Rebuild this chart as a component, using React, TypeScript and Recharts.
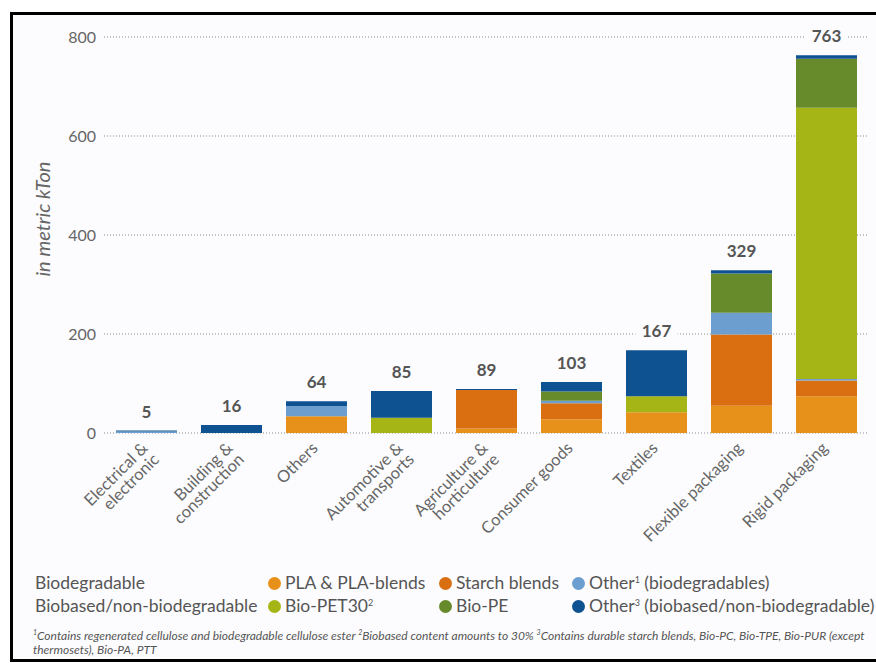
import React from "react";
import { BarChart, Bar, XAxis, YAxis, CartesianGrid, LabelList } from "recharts";

const categories = [
  "Electrical &\nelectronic",
  "Building &\nconstruction",
  "Others",
  "Automotive &\ntransports",
  "Agriculture &\nhorticulture",
  "Consumer goods",
  "Textiles",
  "Flexible packaging",
  "Rigid packaging",
];

// kTon (bottom to top of each stack)
const pla = [0, 0, 34, 0, 9, 28, 42, 55, 74];
const starch = [0, 0, 0, 0, 78, 32, 0, 144, 32];
const otherBio = [3, 0, 20, 0, 0, 5, 0, 44, 3];
const bioPet = [0, 0, 0, 31, 0, 0, 32, 0, 548];
const bioPe = [0, 0, 0, 0, 0, 19, 0, 79, 99];
const otherNonBio = [2, 16, 10, 54, 2, 19, 93, 7, 7];
const totals = [5, 16, 64, 85, 89, 103, 167, 329, 763];

const yTicks = [0, 200, 400, 600, 800];

const COLORS = {
  pla: "#e8911a",
  starch: "#da6f12",
  otherBio: "#6c9fd0",
  bioPet: "#a6b516",
  bioPe: "#678b2b",
  otherNonBio: "#0f5292",
};

const BG = "#fcfcfe";
const TEXT = "#666";
const FONT = "Lato, 'Open Sans', sans-serif";

const data = categories.map((name, i) => ({
  name,
  pla: pla[i],
  starch: starch[i],
  otherBio: otherBio[i],
  bioPet: bioPet[i],
  bioPe: bioPe[i],
  otherNonBio: otherNonBio[i],
  total: totals[i],
}));

function CategoryTick(props: any) {
  const { x, y, payload } = props;
  const lines = String(payload.value).split("\n");
  return (
    <g transform={`translate(${x - 2},${y + 4})`}>
      <text
        transform="rotate(-45)"
        textAnchor="end"
        fill={TEXT}
        fontSize={16.5}
        fontFamily={FONT}
      >
        {lines.map((l, i) => (
          <tspan key={i} x={0} dy={i === 0 ? 6 : 16}>
            {l}
          </tspan>
        ))}
      </text>
    </g>
  );
}

function TotalLabel(props: any) {
  const { x, y, width, value } = props;
  const cx = x + width / 2;
  const cy = y - 19;
  const w = String(value).length * 10 + 12;
  return (
    <g>
      <rect x={cx - w / 2} y={cy - 10} width={w} height={20} fill={BG} />
      <text
        x={cx}
        y={cy + 6}
        textAnchor="middle"
        fontSize={17}
        fontWeight={700}
        fill="#555"
        fontFamily={FONT}
      >
        {value}
      </text>
    </g>
  );
}

const sup = (n: string) => (
  <sup style={{ fontSize: 9, lineHeight: 0, verticalAlign: "6px" }}>{n}</sup>
);

const legendRows = [
  {
    group: "Biodegradable",
    items: [
      { color: COLORS.pla, label: <>PLA &amp; PLA-blends</>, x: 268 },
      { color: COLORS.starch, label: <>Starch blends</>, x: 439 },
      { color: COLORS.otherBio, label: <>Other{sup("1")} (biodegradables)</>, x: 572 },
    ],
  },
  {
    group: "Biobased/non-biodegradable",
    items: [
      { color: COLORS.bioPet, label: <>Bio-PET30{sup("2")}</>, x: 268 },
      { color: COLORS.bioPe, label: <>Bio-PE</>, x: 439 },
      { color: COLORS.otherNonBio, label: <>Other{sup("3")} (biobased/non-biodegradable)</>, x: 572 },
    ],
  },
];

export default function App() {
  return (
    <div
      style={{
        position: "absolute",
        left: 0,
        top: 0,
        width: 876,
        height: 663,
        overflow: "hidden",
        background: "#fff",
        fontFamily: FONT,
      }}
    >
      <div
        style={{
          position: "absolute",
          left: 10,
          top: 12,
          width: 900,
          height: 650,
          boxSizing: "border-box",
          border: "3px solid #000",
          background: BG,
        }}
      />
      <div
        style={{
          position: "absolute",
          left: 42,
          top: 219,
          transform: "translate(-50%,-50%) rotate(-90deg)",
          fontStyle: "italic",
          fontSize: 20,
          color: TEXT,
          whiteSpace: "nowrap",
        }}
      >
        in metric kTon
      </div>
      <div style={{ position: "absolute", left: 0, top: 0 }}>
        <BarChart
          width={876}
          height={560}
          data={data}
          margin={{ top: 37, right: 7, left: 44, bottom: 7 }}
          barSize={61}
        >
          <CartesianGrid vertical={false} stroke="#8a8a8a" strokeDasharray="1 2" />
          <XAxis
            dataKey="name"
            interval={0}
            axisLine={false}
            tickLine={false}
            height={120}
            tick={<CategoryTick />}
          />
          <YAxis
            width={60}
            domain={[0, 800]}
            ticks={yTicks}
            axisLine={false}
            tickLine={false}
            tick={{ fill: TEXT, fontSize: 16, fontFamily: FONT }}
          />
          <Bar dataKey="pla" stackId="a" fill={COLORS.pla} isAnimationActive={false} />
          <Bar dataKey="starch" stackId="a" fill={COLORS.starch} isAnimationActive={false} />
          <Bar dataKey="otherBio" stackId="a" fill={COLORS.otherBio} isAnimationActive={false} />
          <Bar dataKey="bioPet" stackId="a" fill={COLORS.bioPet} isAnimationActive={false} />
          <Bar dataKey="bioPe" stackId="a" fill={COLORS.bioPe} isAnimationActive={false} />
          <Bar dataKey="otherNonBio" stackId="a" fill={COLORS.otherNonBio} isAnimationActive={false}>
            <LabelList dataKey="total" content={<TotalLabel />} />
          </Bar>
        </BarChart>
      </div>

      {legendRows.map((row, r) => (
        <div key={r}>
          <div
            style={{
              position: "absolute",
              left: 35,
              top: 572 + r * 23,
              fontSize: 17.5,
              color: "#555",
              whiteSpace: "nowrap",
              lineHeight: "22px",
            }}
          >
            {row.group}
          </div>
          {row.items.map((it, i) => (
            <div
              key={i}
              style={{
                position: "absolute",
                left: it.x,
                top: 572 + r * 23,
                height: 22,
                fontSize: 17.5,
                color: "#555",
                whiteSpace: "nowrap",
                lineHeight: "22px",
                display: "flex",
                alignItems: "center",
              }}
            >
              <span
                style={{
                  display: "inline-block",
                  width: 13,
                  height: 13,
                  borderRadius: "50%",
                  background: it.color,
                  marginRight: 4,
                  flex: "none",
                }}
              />
              <span>{it.label}</span>
            </div>
          ))}
        </div>
      ))}

      <div
        style={{
          position: "absolute",
          left: 33,
          top: 629,
          fontSize: 12,
          fontStyle: "italic",
          color: "#555",
          lineHeight: "14px",
          whiteSpace: "nowrap",
        }}
      >
        <sup style={{ fontSize: 7, lineHeight: 0 }}>1</sup>Contains regenerated cellulose and biodegradable cellulose ester{" "}
        <sup style={{ fontSize: 7, lineHeight: 0 }}>2</sup>Biobased content amounts to 30%{" "}
        <sup style={{ fontSize: 7, lineHeight: 0 }}>3</sup>Contains durable starch blends, Bio-PC, Bio-TPE, Bio-PUR (except
        <br />
        thermosets), Bio-PA, PTT
      </div>
    </div>
  );
}
